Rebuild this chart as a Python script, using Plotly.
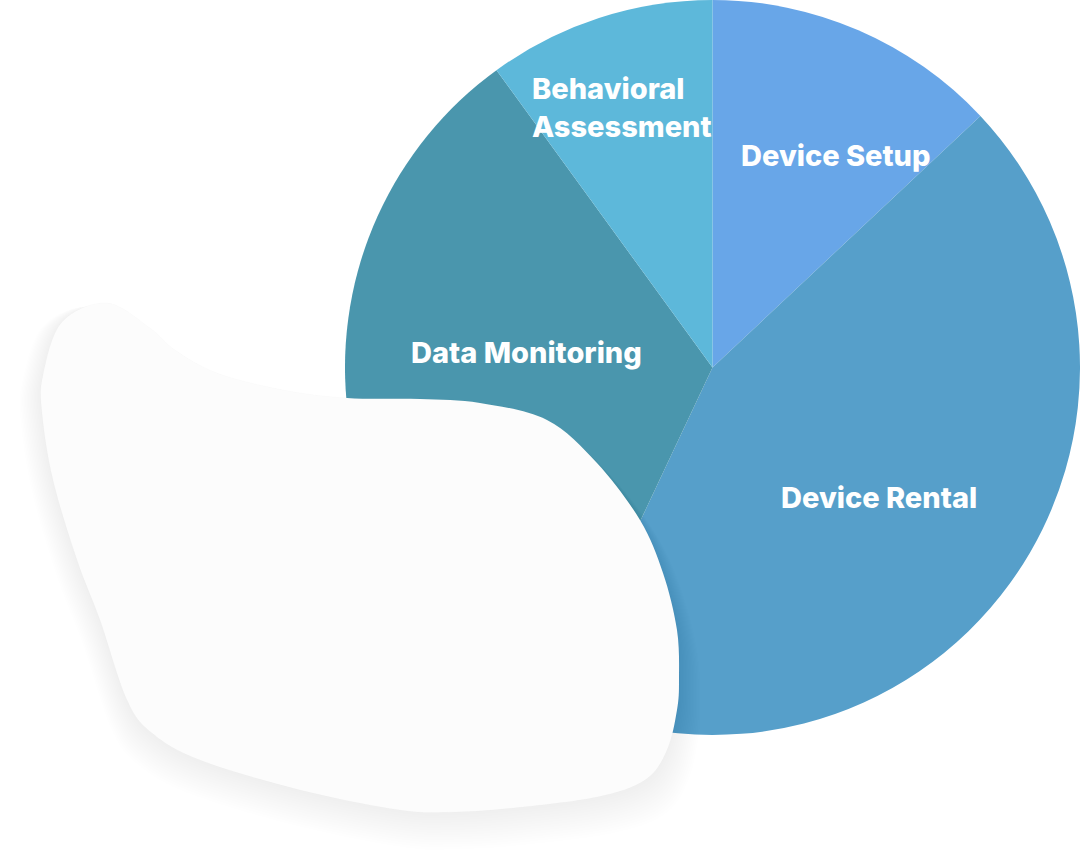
import plotly.graph_objects as go

# ---- data ----
categories = ["Device Setup", "Device Rental", "Data Monitoring", "Behavioral Assessment"]
values = [13, 44, 33, 10]
colors = ["#68A6E8", "#569FCA", "#4A96AD", "#5DB8DA"]

# ---- label placement (pixel space, style only) ----
label_text = ["Device Setup", "Device Rental", "Data Monitoring", "Behavioral<br>Assessment"]
label_xy = [(836, 155), (879, 497), (526, 352), (622, 107)]
label_align = ["center", "center", "center", "left"]

# ---- decorative blob outline (pixel space) ----
blob_pts = [
    (107, 303), (150, 328), (175, 350), (217, 373), (283, 390), (347, 398),
    (420, 399), (480, 403), (547, 420), (597, 463), (640, 520), (663, 573),
    (677, 630), (679, 680), (677, 710), (667, 750), (645, 780), (597, 797),
    (513, 808), (455, 812), (400, 810), (300, 790), (200, 760), (152, 733),
    (127, 700), (100, 620), (77, 560), (53, 480), (42, 413), (43, 375),
    (62, 322),
]


def smooth_path(pts, scale=1.0, cx=360.0, cy=560.0, dx=0.0, dy=0.0):
    p = [(cx + (x - cx) * scale + dx, cy + (y - cy) * scale + dy) for x, y in pts]
    n = len(p)
    d = f"M {p[0][0]:.1f},{p[0][1]:.1f}"
    for i in range(n):
        p0 = p[(i - 1) % n]
        p1 = p[i]
        p2 = p[(i + 1) % n]
        p3 = p[(i + 2) % n]
        c1 = (p1[0] + (p2[0] - p0[0]) / 6, p1[1] + (p2[1] - p0[1]) / 6)
        c2 = (p2[0] - (p3[0] - p1[0]) / 6, p2[1] - (p3[1] - p1[1]) / 6)
        d += f" C {c1[0]:.1f},{c1[1]:.1f} {c2[0]:.1f},{c2[1]:.1f} {p2[0]:.1f},{p2[1]:.1f}"
    return d + " Z"


fig = go.Figure()
fig.add_trace(go.Pie(
    labels=categories,
    values=values,
    marker=dict(colors=colors, line=dict(width=0)),
    sort=False,
    direction="clockwise",
    rotation=0,
    textinfo="none",
    hoverinfo="label+percent",
    showlegend=False,
    domain=dict(x=[345 / 1080, 1.0], y=[(860 - 735) / 860, 1.0]),
))

# invisible pixel axes for decoration
fig.update_xaxes(range=[0, 1080], visible=False, showgrid=False, zeroline=False, fixedrange=True)
fig.update_yaxes(range=[860, 0], visible=False, showgrid=False, zeroline=False, fixedrange=True)

shapes = []
# soft shadow layers
for k in range(1, 16):
    shapes.append(dict(
        type="path", xref="x", yref="y", layer="above",
        path=smooth_path(blob_pts, scale=1.0 + 0.0045 * k, dy=1.0 + 1.3 * k),
        fillcolor="rgba(0,0,0,0.0035)", line=dict(width=0),
    ))
shapes.append(dict(
    type="path", xref="x", yref="y", layer="above",
    path=smooth_path(blob_pts),
    fillcolor="#FCFCFC", line=dict(width=0.6, color="rgba(0,0,0,0.025)"),
))

annotations = []
for txt, (x, y), al in zip(label_text, label_xy, label_align):
    annotations.append(dict(
        x=x, y=y, xref="x", yref="y", text=txt, showarrow=False,
        xanchor="center", yanchor="middle", align=al,
        font=dict(family="Inter", size=29, color="white", weight=800),
    ))

fig.update_layout(
    width=1080, height=860,
    margin=dict(l=0, r=0, t=0, b=0),
    paper_bgcolor="white", plot_bgcolor="rgba(0,0,0,0)",
    shapes=shapes,
    annotations=annotations,
)
fig.write_html(
    "out.html",
    config={"displayModeBar": False},
    post_script="document.body.style.margin='0';document.body.style.overflow='hidden';",
)
